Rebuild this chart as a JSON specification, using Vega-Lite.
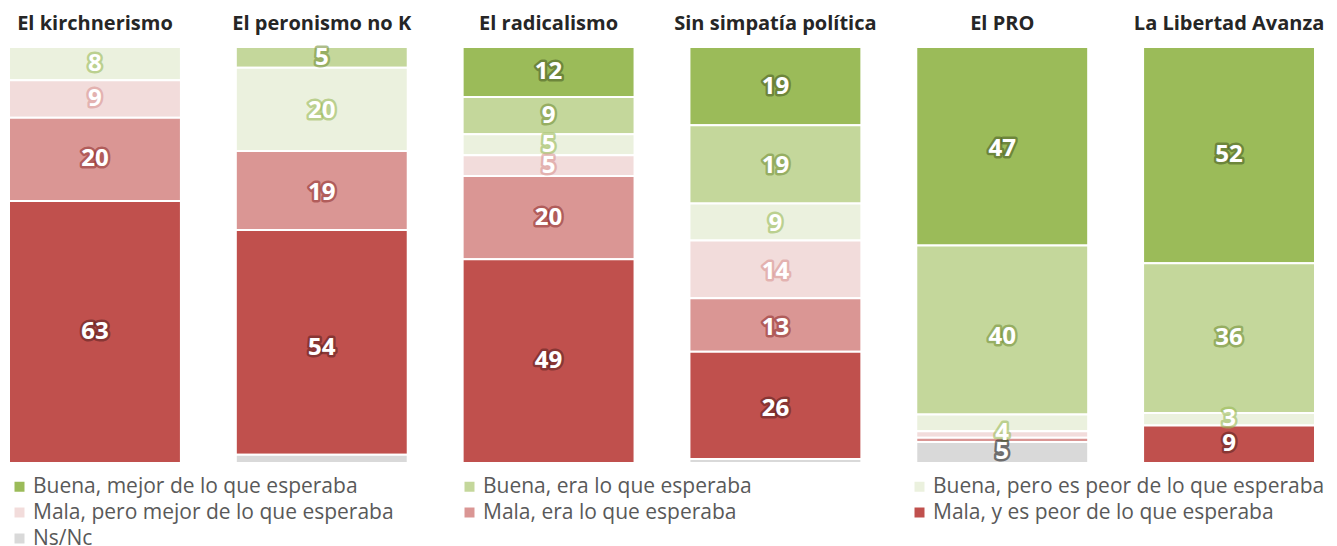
{
  "$schema": "https://vega.github.io/schema/vega-lite/v6.json",
  "autosize": "none",
  "width": 1306,
  "height": 416,
  "padding": {"left": 9, "top": 47, "right": 22, "bottom": 83},
  "background": "white",
  "config": {"view": {"stroke": null}, "font": "Open Sans"},
  "data": {
    "values": [
      {"party": "El kirchnerismo", "cat": "Buena, pero es peor de lo que esperaba", "k": 5, "value": 8},
      {"party": "El kirchnerismo", "cat": "Mala, pero mejor de lo que esperaba", "k": 4, "value": 9},
      {"party": "El kirchnerismo", "cat": "Mala, era lo que esperaba", "k": 3, "value": 20},
      {"party": "El kirchnerismo", "cat": "Mala, y es peor de lo que esperaba", "k": 2, "value": 63},
      {"party": "El peronismo no K", "cat": "Buena, era lo que esperaba", "k": 6, "value": 5},
      {"party": "El peronismo no K", "cat": "Buena, pero es peor de lo que esperaba", "k": 5, "value": 20},
      {"party": "El peronismo no K", "cat": "Mala, era lo que esperaba", "k": 3, "value": 19},
      {"party": "El peronismo no K", "cat": "Mala, y es peor de lo que esperaba", "k": 2, "value": 54},
      {"party": "El peronismo no K", "cat": "Ns/Nc", "k": 1, "value": 2},
      {"party": "El radicalismo", "cat": "Buena, mejor de lo que esperaba", "k": 7, "value": 12},
      {"party": "El radicalismo", "cat": "Buena, era lo que esperaba", "k": 6, "value": 9},
      {"party": "El radicalismo", "cat": "Buena, pero es peor de lo que esperaba", "k": 5, "value": 5},
      {"party": "El radicalismo", "cat": "Mala, pero mejor de lo que esperaba", "k": 4, "value": 5},
      {"party": "El radicalismo", "cat": "Mala, era lo que esperaba", "k": 3, "value": 20},
      {"party": "El radicalismo", "cat": "Mala, y es peor de lo que esperaba", "k": 2, "value": 49},
      {"party": "Sin simpatía política", "cat": "Buena, mejor de lo que esperaba", "k": 7, "value": 19},
      {"party": "Sin simpatía política", "cat": "Buena, era lo que esperaba", "k": 6, "value": 19},
      {"party": "Sin simpatía política", "cat": "Buena, pero es peor de lo que esperaba", "k": 5, "value": 9},
      {"party": "Sin simpatía política", "cat": "Mala, pero mejor de lo que esperaba", "k": 4, "value": 14},
      {"party": "Sin simpatía política", "cat": "Mala, era lo que esperaba", "k": 3, "value": 13},
      {"party": "Sin simpatía política", "cat": "Mala, y es peor de lo que esperaba", "k": 2, "value": 26},
      {"party": "Sin simpatía política", "cat": "Ns/Nc", "k": 1, "value": 1},
      {"party": "El PRO", "cat": "Buena, mejor de lo que esperaba", "k": 7, "value": 47},
      {"party": "El PRO", "cat": "Buena, era lo que esperaba", "k": 6, "value": 40},
      {"party": "El PRO", "cat": "Buena, pero es peor de lo que esperaba", "k": 5, "value": 4},
      {"party": "El PRO", "cat": "Mala, pero mejor de lo que esperaba", "k": 4, "value": 1.5},
      {"party": "El PRO", "cat": "Mala, era lo que esperaba", "k": 3, "value": 1},
      {"party": "El PRO", "cat": "Ns/Nc", "k": 1, "value": 5},
      {"party": "La Libertad Avanza", "cat": "Buena, mejor de lo que esperaba", "k": 7, "value": 52},
      {"party": "La Libertad Avanza", "cat": "Buena, era lo que esperaba", "k": 6, "value": 36},
      {"party": "La Libertad Avanza", "cat": "Buena, pero es peor de lo que esperaba", "k": 5, "value": 3},
      {"party": "La Libertad Avanza", "cat": "Mala, y es peor de lo que esperaba", "k": 2, "value": 9}
    ]
  },
  "encoding": {
    "x": {
      "field": "party",
      "type": "nominal",
      "sort": ["El kirchnerismo", "El peronismo no K", "El radicalismo", "Sin simpatía política", "El PRO", "La Libertad Avanza"],
      "scale": {"paddingInner": 0.242, "paddingOuter": 0},
      "axis": {
        "orient": "top",
        "title": null,
        "domain": false,
        "ticks": false,
        "labelAngle": 0,
        "labelFont": "Open Sans",
        "labelFontWeight": "bold",
        "labelFontSize": 20,
        "labelColor": "#262626",
        "labelPadding": 14,
        "labelLimit": 300
      }
    }
  },
  "layer": [
    {
      "mark": {"type": "bar", "stroke": "white", "strokeWidth": 2},
      "encoding": {
        "y": {"field": "value", "type": "quantitative", "stack": "normalize", "axis": null, "scale": {"domain": [0, 1]}},
        "order": {"field": "k", "type": "quantitative"},
        "color": {
          "field": "cat",
          "type": "nominal",
          "scale": {
            "domain": ["Buena, mejor de lo que esperaba", "Buena, era lo que esperaba", "Buena, pero es peor de lo que esperaba", "Mala, pero mejor de lo que esperaba", "Mala, era lo que esperaba", "Mala, y es peor de lo que esperaba", "Ns/Nc"],
            "range": ["#9BBB59", "#C4D79B", "#EBF1DE", "#F2DCDB", "#DA9694", "#C0504D", "#D9D9D9"]
          },
          "legend": {
            "title": null,
            "orient": "none",
            "legendX": 0,
            "legendY": 429,
            "direction": "horizontal",
            "columns": 3,
            "gridAlign": "all",
            "columnPadding": 34,
            "rowPadding": 4,
            "symbolType": "square",
            "symbolSize": 100,
            "symbolStrokeWidth": 0,
            "symbolOpacity": 1,
            "labelFont": "Open Sans",
            "labelFontSize": 21,
            "labelColor": "#595959",
            "labelOffset": 3,
            "labelLimit": 500
          }
        }
      }
    },
    {
      "transform": [{"filter": "datum.value >= 3"}],
      "mark": {"type": "text", "fontSize": 24, "fontWeight": "bold", "font": "Open Sans", "fill": "white", "strokeWidth": 5, "strokeOpacity": 0.6, "strokeJoin": "round"},
      "encoding": {
        "y": {"field": "value", "type": "quantitative", "stack": "normalize", "bandPosition": 0.5},
        "order": {"field": "k", "type": "quantitative"},
        "text": {"field": "value", "type": "quantitative"},
        "stroke": {
          "field": "cat",
          "type": "nominal",
          "legend": null,
          "scale": {
            "domain": ["Buena, mejor de lo que esperaba", "Buena, era lo que esperaba", "Buena, pero es peor de lo que esperaba", "Mala, pero mejor de lo que esperaba", "Mala, era lo que esperaba", "Mala, y es peor de lo que esperaba", "Ns/Nc"],
            "range": ["#4F6228", "#77933C", "#9BBB59", "#D99694", "#963634", "#632523", "#262626"]
          }
        }
      }
    },
    {
      "transform": [{"filter": "datum.value >= 3"}],
      "mark": {"type": "text", "fontSize": 24, "fontWeight": "bold", "font": "Open Sans", "fill": "white"},
      "encoding": {
        "y": {"field": "value", "type": "quantitative", "stack": "normalize", "bandPosition": 0.5},
        "order": {"field": "k", "type": "quantitative"},
        "text": {"field": "value", "type": "quantitative"}
      }
    }
  ]
}
